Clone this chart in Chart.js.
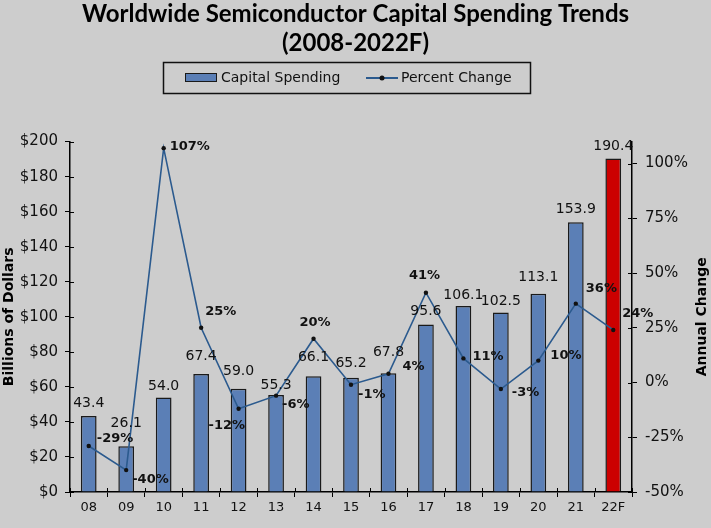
<!DOCTYPE html>
<html><head><meta charset="utf-8">
<script src="https://cdn.jsdelivr.net/npm/chart.js@4.4.1/dist/chart.umd.min.js"></script>
<style>html,body{margin:0;padding:0;background:#cdcdcd;overflow:hidden}#wrap{width:711px;height:528px;position:relative}</style>
</head><body><div id="wrap"><canvas id="c"></canvas></div>
<script>
const categories = ['08','09','10','11','12','13','14','15','16','17','18','19','20','21','22F'];
const capitalSpending = [43.4,26.1,54.0,67.4,59.0,55.3,66.1,65.2,67.8,95.6,106.1,102.5,113.1,153.9,190.4];
const percentChange = [-29,-40,107,25,-12,-6,20,-1,4,41,11,-3,10,36,24];
const dollarTicks = [0,20,40,60,80,100,120,140,160,180,200];
const percentTicks = [-50,-25,0,25,50,75,100];

// label layout (offsets from the mark, in px)
const pctLabelOffsets = [[8,-7],[6,10],[6,-2],[4,-16],[-30,17],[6,9],[-14,-16],[7,10],[14,-7],[-17,-17],[9,-2],[11,4],[12,-5],[10,-15],[9,-16]];
const valueLabelLift = [13,23,11,18,17,10,19,14,21,13,11,11,16,13,12];

const BLUE = '#5b7fb6', RED = '#cc0000', LINE = '#2b5a8e', BG = '#cdcdcd';

const bgPlugin = {
  id:'bg',
  beforeDraw(chart){ const c=chart.ctx; c.save(); c.fillStyle=BG; c.fillRect(0,0,chart.width,chart.height); c.restore(); }
};

const legendPlugin = {
  id:'boxLegend',
  afterDraw(chart){
    const c=chart.ctx; c.save();
    c.strokeStyle='#111'; c.lineWidth=1.5;
    c.strokeRect(163.5,62.5,367,31);
    c.fillStyle=BLUE; c.fillRect(185,73,32,9);
    c.strokeStyle='#1a1a1a'; c.lineWidth=1; c.strokeRect(185.5,73.5,31,8);
    c.fillStyle='#111'; c.font='14px "DejaVu Sans"'; c.textBaseline='middle'; c.textAlign='left';
    c.fillText(chart.data.datasets[0].label,221,78);
    c.strokeStyle=LINE; c.lineWidth=2; c.beginPath(); c.moveTo(366,78); c.lineTo(398,78); c.stroke();
    c.fillStyle='#111'; c.beginPath(); c.arc(382,78,2.5,0,Math.PI*2); c.fill();
    c.fillText(chart.data.datasets[1].label,401,78);
    // right axis title, reading bottom to top
    const a=chart.chartArea;
    c.translate(702,(a.top+a.bottom)/2); c.rotate(-Math.PI/2);
    c.font='bold 14px "DejaVu Sans"'; c.textAlign='center'; c.fillStyle='#000';
    c.fillText('Annual Change',0,0);
    c.restore();
  }
};

const innerTicks = {
  id:'innerTicks',
  afterDraw(chart){
    const c=chart.ctx, a=chart.chartArea, sx=chart.scales.x, sy=chart.scales.y, sy1=chart.scales.y1;
    c.save(); c.strokeStyle='#000'; c.lineWidth=1; c.beginPath();
    sy.ticks.forEach(t=>{ const y=Math.round(sy.getPixelForValue(t.value))+0.5; c.moveTo(a.left,y); c.lineTo(a.left+4,y); });
    sy1.ticks.forEach(t=>{ const y=Math.round(sy1.getPixelForValue(t.value))+0.5; c.moveTo(a.right,y); c.lineTo(a.right-4,y); });
    const step = sx.getPixelForValue(1)-sx.getPixelForValue(0);
    for(let i=0;i<=categories.length;i++){ const x=Math.round(sx.getPixelForValue(i)-step/2)+0.5; c.moveTo(x,a.bottom); c.lineTo(x,a.bottom-4); }
    c.stroke(); c.restore();
  }
};

const labelPlugin = {
  id:'labels',
  afterDatasetsDraw(chart){
    const c=chart.ctx, bm=chart.getDatasetMeta(0), lm=chart.getDatasetMeta(1);
    c.save(); c.fillStyle='#111'; c.textBaseline='middle';
    c.font='14px "DejaVu Sans"'; c.textAlign='center';
    bm.data.forEach((b,i)=>{ c.fillText(capitalSpending[i].toFixed(1), b.x, b.y-valueLabelLift[i]); });
    c.font='bold 13px "DejaVu Sans"'; c.textAlign='left';
    lm.data.forEach((p,i)=>{ const o=pctLabelOffsets[i]; c.fillText(percentChange[i]+'%', p.x+o[0], p.y+o[1]); });
    c.restore();
  }
};

new Chart(document.getElementById('c'), {
  data:{
    labels:categories,
    datasets:[
      {type:'bar', label:'Capital Spending', data:capitalSpending, yAxisID:'y', order:2,
       backgroundColor:capitalSpending.map((v,i)=>i===capitalSpending.length-1?RED:BLUE),
       borderColor:'#1a1a1a', borderWidth:1.5, barPercentage:0.42, categoryPercentage:1},
      {type:'line', label:'Percent Change', data:percentChange, yAxisID:'y1', order:1,
       borderColor:LINE, borderWidth:1.6, tension:0, pointRadius:2.2, pointBackgroundColor:'#111', pointBorderColor:'#111', pointBorderWidth:0}
    ]
  },
  options:{
    responsive:true, maintainAspectRatio:false, animation:false,
    layout:{padding:0},
    plugins:{
      legend:{display:false}, tooltip:{enabled:false},
      title:{display:true, text:['Worldwide Semiconductor Capital Spending Trends','(2008-2022F)'],
        color:'#000', font:{family:'Lato', weight:'bold', size:24, lineHeight:1.2}, padding:{top:0,bottom:84}}
    },
    scales:{
      x:{grid:{offset:true, drawOnChartArea:false, color:'#000', tickLength:5}, border:{color:'#000', width:1.5},
         ticks:{color:'#111', font:{family:'DejaVu Sans', size:13}, padding:3},
         afterFit(s){ s.height=36; }},
      y:{position:'left', min:0, max:200,
         afterBuildTicks(s){ s.ticks=dollarTicks.map(v=>({value:v})); },
         ticks:{color:'#111', font:{family:'DejaVu Sans', size:15}, padding:7, callback:v=>'$'+v},
         grid:{drawOnChartArea:false, color:'#000', tickLength:5}, border:{color:'#000', width:1.5},
         title:{display:true, text:'Billions of Dollars', color:'#000', font:{family:'DejaVu Sans', weight:'bold', size:14}, padding:{top:1,bottom:0}},
         afterFit(s){ s.width=70; }},
      y1:{position:'right', min:-50, max:110,
         afterBuildTicks(s){ s.ticks=percentTicks.map(v=>({value:v})); },
         ticks:{color:'#111', font:{family:'DejaVu Sans', size:15}, padding:8, callback:v=>v+'%'},
         grid:{drawOnChartArea:false, color:'#000', tickLength:5}, border:{color:'#000', width:1.5},
         title:{display:false},
         afterFit(s){ s.width=79; }}
    }
  },
  plugins:[bgPlugin, innerTicks, labelPlugin, legendPlugin]
});
</script></body></html>
